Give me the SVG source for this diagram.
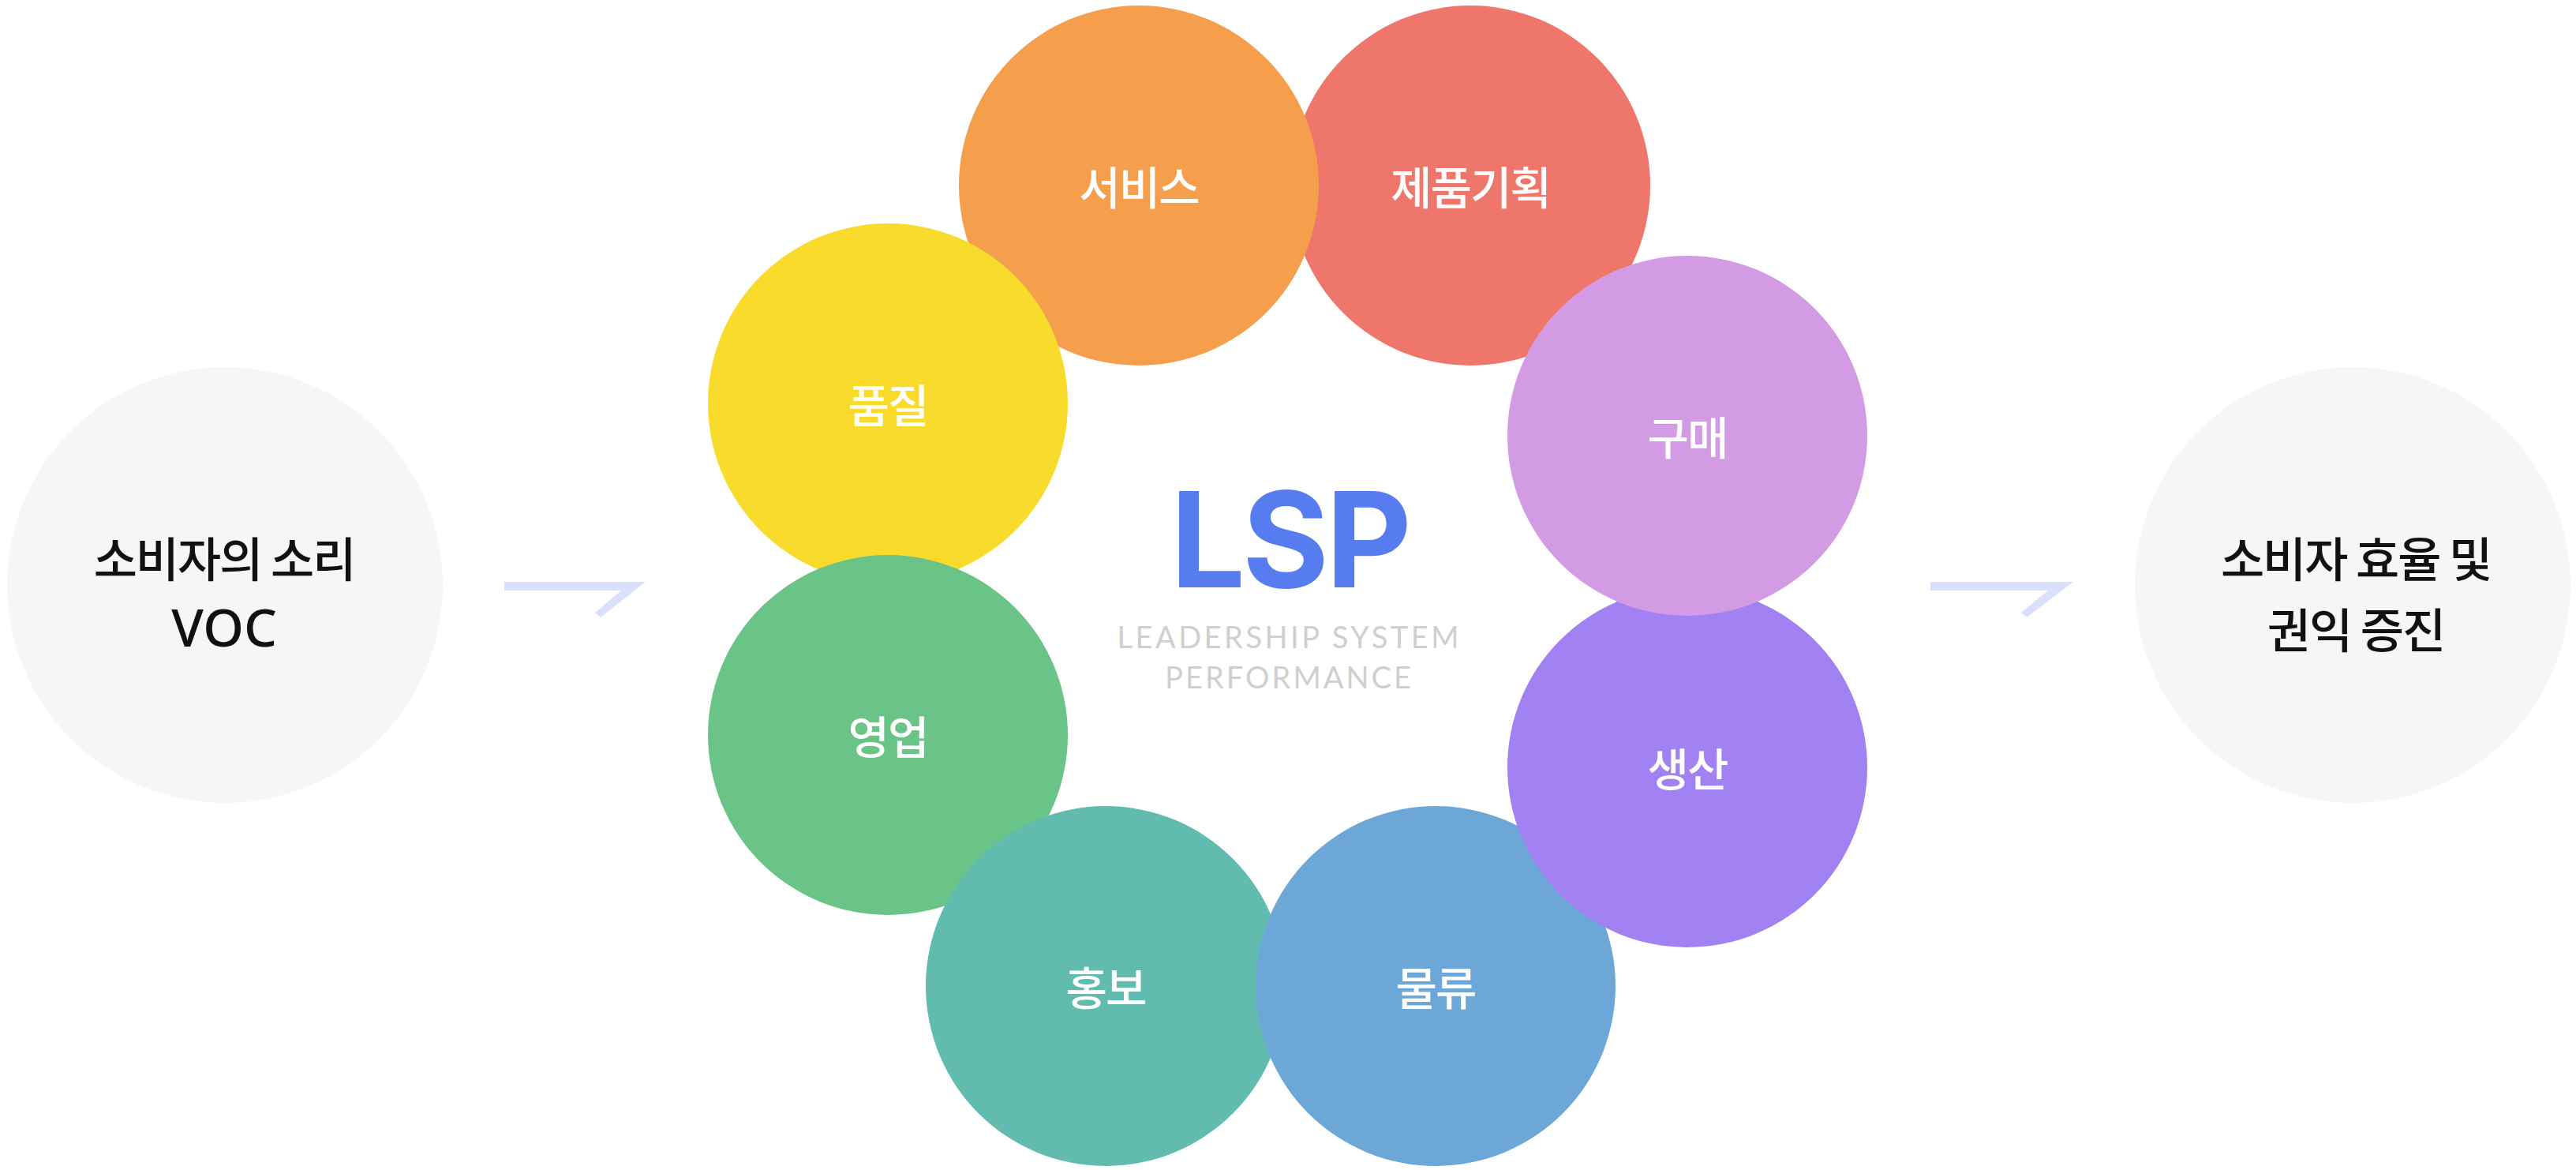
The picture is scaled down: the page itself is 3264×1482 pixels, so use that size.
<svg xmlns="http://www.w3.org/2000/svg" width="3264" height="1482" viewBox="0 0 3264 1482">
<style>
.side{fill:#f6f6f6}
.lbl{font-family:"Noto Sans CJK KR","Noto Sans",sans-serif;font-size:57px;font-weight:500;fill:#ffffff;text-anchor:middle;letter-spacing:-2px}
.dark{font-family:"Noto Sans CJK KR","Noto Sans",sans-serif;font-size:60px;font-weight:500;fill:#111111;text-anchor:middle;letter-spacing:-2px}
.voc{font-family:"Noto Sans","Noto Sans CJK KR",sans-serif;font-size:66px;font-weight:500;fill:#111111;text-anchor:middle}
.lsp{font-family:Inter,"Noto Sans",sans-serif;font-size:168px;font-weight:700;fill:#577cef;text-anchor:middle;letter-spacing:-4px}
.sub{font-family:Lato,"Open Sans",sans-serif;font-size:38px;font-weight:400;fill:#cfcfcf;text-anchor:middle}
.arrow{fill:#d9e0fb}
</style>
<rect width="3264" height="1482" fill="#ffffff"/>
<g id="connectors">
<polygon class="arrow" points="639,737 818,737 761,782 754,776 787,748 639,748"/>
<polygon class="arrow" points="2446,737 2627,737 2568,782 2561,776 2595,748 2446,748"/>
</g>
<g id="voc">
<circle class="side" cx="285" cy="741" r="276"/>
<text class="dark" x="284" y="731">소비자의 소리</text>
<text class="voc" x="284" y="819">VOC</text>
</g>
<g id="result">
<circle class="side" cx="2981" cy="741" r="276"/>
<text class="dark" x="2985" y="731">소비자 효율 및</text>
<text class="dark" x="2985" y="821">권익 증진</text>
</g>
<g id="planning">
<circle cx="1863" cy="235" r="228" fill="#ee766a"/>
<text class="lbl" x="1863" y="259">제품기획</text>
</g>
<g id="service">
<circle cx="1443" cy="235" r="228" fill="#f59e4b"/>
<text class="lbl" x="1443" y="259">서비스</text>
</g>
<g id="quality">
<circle cx="1125" cy="511" r="228" fill="#f9db2c"/>
<text class="lbl" x="1125" y="535">품질</text>
</g>
<g id="sales">
<circle cx="1125" cy="931" r="228" fill="#6ac487"/>
<text class="lbl" x="1125" y="955">영업</text>
</g>
<g id="promotion">
<circle cx="1401" cy="1249" r="228" fill="#61bcaf"/>
<text class="lbl" x="1401" y="1273">홍보</text>
</g>
<g id="logistics">
<circle cx="1819" cy="1249" r="228" fill="#6ca7d8"/>
<text class="lbl" x="1819" y="1273">물류</text>
</g>
<g id="production">
<circle cx="2138" cy="972" r="228" fill="#a281f2"/>
<text class="lbl" x="2138" y="996">생산</text>
</g>
<g id="purchase">
<circle cx="2138" cy="552" r="228" fill="#d39be4"/>
<text class="lbl" x="2138" y="576">구매</text>
</g>
<g id="center">
<text class="lsp" x="1634" y="744">LSP</text>
<text class="sub" x="1632" y="821" textLength="433" lengthAdjust="spacing">LEADERSHIP SYSTEM</text>
<text class="sub" x="1632" y="872" textLength="312" lengthAdjust="spacing">PERFORMANCE</text>
</g>
</svg>
